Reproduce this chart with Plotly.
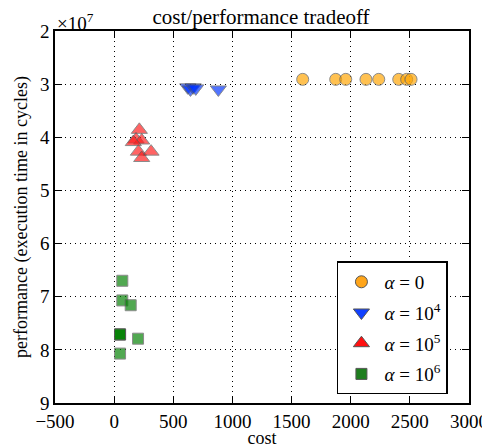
import plotly.graph_objects as go

# data (performance in units of 1e7 cycles)
cost_a0 = [1594, 1873, 1958, 2129, 2237, 2406, 2473, 2510]
perf_a0 = [2.91, 2.91, 2.91, 2.91, 2.91, 2.91, 2.91, 2.91]

cost_a4 = [622, 645, 668, 690, 881]
perf_a4 = [3.06, 3.10, 3.06, 3.08, 3.10]

cost_a5 = [213, 185, 233, 162, 205, 312, 233]
perf_a5 = [3.86, 4.04, 4.06, 4.09, 4.27, 4.27, 4.39]

cost_a6 = [69, 69, 140, 50, 50, 50, 202, 50]
perf_a6 = [6.70, 7.07, 7.16, 7.71, 7.71, 7.71, 7.79, 8.07]

labels = ["<i>α</i> = 0", "<i>α</i> = 10<sup>4</sup>", "<i>α</i> = 10<sup>5</sup>", "<i>α</i> = 10<sup>6</sup>"]
colors = ["#FFA500", "#0033FF", "#FF1A1A", "#008000"]
legend_colors = ["#FFA51A", "#1040FF", "#FF1010", "#1E7E1E"]
symbols = ["circle", "triangle-down", "triangle-up", "square"]
sizes = [12, 14, 14, 11]

xs = [cost_a0, cost_a4, cost_a5, cost_a6]
ys = [perf_a0, perf_a4, perf_a5, perf_a6]

FONT = "Liberation Serif, Times New Roman, serif"
fig = go.Figure()
for x, y, c, s, sz in zip(xs, ys, colors, symbols, sizes):
    fig.add_trace(go.Scatter(
        x=x, y=y, mode="markers", showlegend=False,
        marker=dict(color=c, symbol=s, size=sz, opacity=0.68,
                    line=dict(color="#555555", width=1))))
for i, (lab, c, s, sz) in enumerate(zip(labels, legend_colors, symbols, sizes)):
    fig.add_trace(go.Scatter(
        x=[None], y=[None], mode="markers", name=lab, legendgroup=f"g{i}",
        marker=dict(color=c, symbol=s, size=sz,
                    line=dict(color="#555555", width=1))))

axis_common = dict(
    showline=True, linecolor="black", linewidth=1.6, mirror="allticks",
    ticks="inside", ticklen=7, tickwidth=1.2, tickcolor="black",
    showgrid=True, gridcolor="black", griddash="1px,4px", gridwidth=1,
    zeroline=False, automargin=False,
    tickfont=dict(family=FONT, size=19, color="black"),
)
fig.update_xaxes(range=[-500, 3000], dtick=500, tick0=0,
                 title=dict(text="cost", font=dict(family=FONT, size=18, color="black"), standoff=2),
                 **axis_common)
fig.update_yaxes(range=[9, 2], dtick=1, tick0=0,
                 title=dict(text="performance (execution time in cycles)",
                            font=dict(family=FONT, size=18, color="black"), standoff=8),
                 **axis_common)

# page body has an 8px margin, so the figure is 8px smaller and top/left margins shifted
fig.update_layout(
    width=482, height=440,
    margin=dict(l=47, r=21, t=23, b=45),
    paper_bgcolor="white", plot_bgcolor="white",
    title=dict(text="cost/performance tradeoff", x=0.525, xanchor="center",
               y=0.996, yanchor="top",
               font=dict(family=FONT, size=21, color="black")),
    legend=dict(x=0.681, y=0.023, xanchor="left", yanchor="bottom",
                bordercolor="black", borderwidth=1.5, bgcolor="white",
                font=dict(family=FONT, size=19, color="black"),
                tracegroupgap=3, itemwidth=36),
    font=dict(family=FONT, color="black"),
)
fig.add_annotation(text="×10<sup>7</sup>", xref="paper", yref="paper", x=0.0, y=1.0,
                   xanchor="left", yanchor="bottom", showarrow=False,
                   font=dict(family=FONT, size=19, color="black"), yshift=-5)

fig.write_html("out.html")
